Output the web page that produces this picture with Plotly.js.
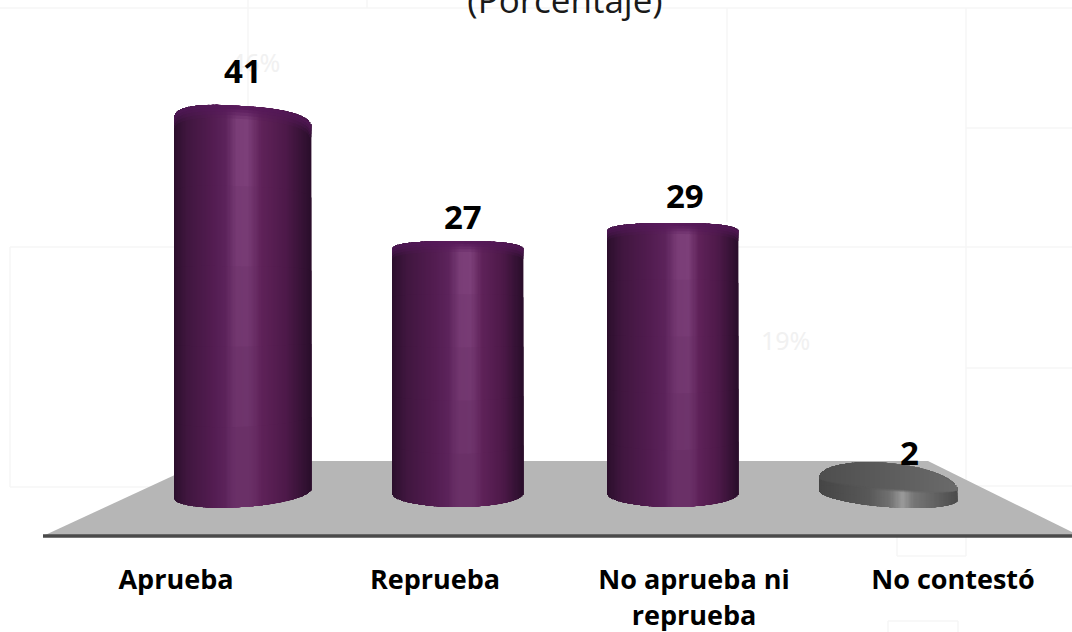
<!DOCTYPE html>
<html><head><meta charset="utf-8">
<script src="https://cdn.plot.ly/plotly-3.0.1.min.js"></script>
<style>html,body{margin:0;padding:0;background:#fff;overflow:hidden}</style>
</head><body><div id="chart" style="width:1072px;height:632px"></div>
<script>
// ---- data ----
const categories = ['Aprueba', 'Reprueba', 'No aprueba ni<br>reprueba', 'No contestó'];
const values = [41, 27, 29, 2];
const chartTitle = '(Porcentaje)';
const ghostLabels = ['46%', '19%'];

// ---- layout constants (pixels) ----
const W = 1072, H = 632, floorY = 536, zeroY = 493, pxPerUnit = 9;
const tickStart = 176, tickStep = 259;
const barCenter = [242.5, 457.5, 672.5, 888];
const barWidth = [137, 131, 131, 138];
const capH = [18, 9, 9, 21], botH = [14, 14, 14, 12], capFront = [0, 0, 0, 7];
const capDrop = [0, 0, 0, 9], botDrop = [0, 0, 0, 2];
const capBand = [13, 11, 11, 0];
const topSkew = [9, 0, 0, 12], botSkew = [-9, 0, 0, 10];
const highlight = [0.5, 0.57, 0.59, 0.61];
const labelShift = [[0, 54], [5, 34], [12, 37], [21, 23]];
const isGrey = [false, false, false, true];
const N = 110;

const hex = s => [1, 3, 5].map(i => parseInt(s.substr(i, 2), 16));
function rampRGB(stops, t) {
  for (let i = 1; i < stops.length; i++) {
    if (t <= stops[i][0]) {
      const a = stops[i - 1], b = stops[i], f = (t - a[0]) / (b[0] - a[0] || 1);
      const ca = hex(a[1]), cb = hex(b[1]);
      return ca.map((c, j) => c + (cb[j] - c) * f);
    }
  }
  return hex(stops[stops.length - 1][1]);
}
const css = c => 'rgb(' + c.map(Math.round).join(',') + ')';
const mix = (a, b, f) => a.map((c, j) => c + (b[j] - c) * f);
const purple = [[0, '#2a0e2b'], [0.1, '#40163f'], [0.28, '#521c50'], [0.38, '#5c235b'], [0.46, '#7a3d77'], [0.54, '#7c3f79'], [0.64, '#5f2259'], [0.82, '#4d1949'], [1, '#2a0e2b']];
const grey = [[0, '#454545'], [0.3, '#585858'], [0.42, '#707070'], [0.5, '#9a9a9a'], [0.6, '#767676'], [0.8, '#626262'], [1, '#4c4c4c']];
const capPurple = [[0, '#4a1650'], [0.5, '#5a1b5c'], [1, '#4d1650']];
const capGrey = [[0, '#4e4e4e'], [0.5, '#5c5c5c'], [1, '#6a6a6a']];
const warp = (t, hp) => t < hp ? 0.5 * t / hp : 0.5 + 0.5 * (t - hp) / (1 - hp);

const axisOffset = categories.map((c, i) => (barCenter[i] - (tickStart + tickStep * i) - barWidth[i] / 2) / tickStep);
const coreShare = 0.6;
const traces = [{
  type: 'bar', name: 'Porcentaje', x: categories, y: values,
  offset: axisOffset.map((o, i) => o + (1 - coreShare) / 2 * barWidth[i] / tickStep),
  width: barWidth.map(w => coreShare * w / tickStep),
  marker: {color: isGrey.map(g => g ? '#555555' : '#4b1848'), line: {width: 0}},
  hoverinfo: 'x+y'
}];
// fine vertical tiers: only bright colours dim toward the floor
const bodyTiers = [[1, 0], [0.8, 0.06], [0.6, 0.12], [0.4, 0.18], [0.2, 0.24]];
const capLayers = [[1, 0.25], [0.75, 0.55], [0.5, 0.8], [0.28, 1]];
const midPurple = [86, 32, 84];
for (let k = 0; k < N; k++) {
  const t = (k + 0.5) / N, u = 2 * t - 1;
  const round = Math.sqrt(1 - u * u);
  const roundTop = Math.pow(1 - Math.pow(Math.abs(u), 2.6), 1 / 2.6);
  const offs = categories.map((c, i) => axisOffset[i] + (k / N) * barWidth[i] / tickStep);
  const wid = barWidth.map(w => (w / N + 0.4) / tickStep);
  const base = botH.map((b, i) => -(b * round + botDrop[i] + botSkew[i] * (t - 0.5)) / pxPerUnit);
  const bodyCol = categories.map((c, i) => rampRGB(isGrey[i] ? grey : purple, warp(t, highlight[i])));
  const topEdge = values.map((v, i) => v + (capH[i] * (isGrey[i] ? round : roundTop) - capDrop[i] - topSkew[i] * (t - 0.5)) / pxPerUnit);
  bodyTiers.forEach(tier => {
    traces.push({
      type: 'bar', x: categories, base: base,
      y: topEdge.map((e, i) => (e - base[i]) * tier[0]),
      offset: offs, width: wid, hoverinfo: 'skip', showlegend: false,
      marker: {color: bodyCol.map((c, i) => {
        if (isGrey[i]) return css(c);
        const brighter = Math.max(0, Math.min(1, (c[0] - midPurple[0]) / 38));
        return css(mix(c, midPurple, tier[1] * 2 * brighter));
      }), line: {width: 0}}
    });
  });
  capLayers.forEach(layer => {
    const capCol = categories.map((c, i) => rampRGB(isGrey[i] ? capGrey : capPurple, t));
    // band thickness: a thin bevel on the tall cylinders, a full ellipse on the flat disc
    const thick = categories.map((c, i) => capBand[i] ? capBand[i] * layer[0] : (capH[i] + capFront[i]) * round * (0.88 + 0.12 * layer[0]));
    traces.push({
      type: 'bar', x: categories,
      base: topEdge.map((e, i) => e - thick[i] / pxPerUnit),
      y: thick.map(h => h / pxPerUnit),
      offset: offs, width: wid, hoverinfo: 'skip', showlegend: false,
      marker: {color: categories.map((c, i) => css(mix(bodyCol[i], capCol[i], layer[1]))), line: {width: 0}}
    });
  });
}

const px = x => x / W, py = y => 1 - y / floorY;
const floorPts = [[43, 536], [205, 461], [928, 461], [1072, 532], [1072, 536]];
const floorPath = floorPts.map((p, i) => (i ? 'L' : 'M') + px(p[0]) + ' ' + py(p[1])).join(' ') + ' Z';
const gridH = [[0, 1072, 8], [10, 175, 247], [738, 1072, 247], [966, 1072, 128], [966, 1072, 368], [10, 175, 487], [965, 1072, 486]];
const gridV = [[248, 0, 107], [367, 0, 8], [727, 8, 222], [966, 8, 556], [10, 247, 487], [897, 536, 556]];
const extra = [[897, 966, 556], [888, 958, 621]];
const gridLine = {color: '#f6f6f6', width: 1.5};
const shapes = [];
gridH.concat(extra).forEach(g => shapes.push({type: 'line', layer: 'below', xref: 'paper', yref: 'paper', x0: px(g[0]), x1: px(g[1]), y0: py(g[2]), y1: py(g[2]), line: gridLine}));
gridV.concat([[888, 621, 632], [958, 621, 632]]).forEach(g => shapes.push({type: 'line', layer: 'below', xref: 'paper', yref: 'paper', x0: px(g[0]), x1: px(g[0]), y0: py(g[1]), y1: py(g[2]), line: gridLine}));
shapes.push({type: 'path', layer: 'below', xref: 'paper', yref: 'paper', path: floorPath, fillcolor: '#b6b6b6', line: {width: 0}});
shapes.push({type: 'line', layer: 'below', xref: 'paper', yref: 'paper', x0: px(43), x1: 1, y0: py(536), y1: py(536), line: {color: '#4a4a4a', width: 3.5}});

const annotations = values.map((v, i) => ({
  x: categories[i], y: v, xref: 'x', yref: 'y', text: String(v), showarrow: false,
  xanchor: 'center', yanchor: 'middle',
  xshift: barCenter[i] - (tickStart + tickStep * i) + labelShift[i][0], yshift: labelShift[i][1],
  font: {family: 'Open Sans, sans-serif', size: 33, color: '#000', weight: 700}
}));
[[255, 62], [785, 340]].forEach((p, i) => annotations.unshift({
  x: px(p[0]), y: py(p[1]), xref: 'paper', yref: 'paper', text: ghostLabels[i], showarrow: false,
  xanchor: 'center', yanchor: 'middle',
  font: {family: 'Noto Sans, sans-serif', size: 25, color: '#f1f1f1'}
}));

const layout = {
  width: W, height: H, margin: {l: 0, r: 0, t: 0, b: H - floorY, pad: 0},
  paper_bgcolor: '#fff', plot_bgcolor: 'rgba(0,0,0,0)', showlegend: false,
  barmode: 'overlay',
  title: {text: chartTitle, x: 565 / W, xanchor: 'center', xref: 'paper', y: 1 - 13 / H, yref: 'container', yanchor: 'bottom',
    font: {family: 'Open Sans, sans-serif', size: 35, color: '#1a1a1a'}},
  xaxis: {type: 'category', categoryorder: 'array', categoryarray: categories,
    range: [-tickStart / tickStep, (W - tickStart) / tickStep], fixedrange: true,
    showgrid: false, zeroline: false, showline: false,
    ticks: 'outside', ticklen: 20, tickcolor: 'rgba(0,0,0,0)', automargin: false,
    tickfont: {family: 'Open Sans, sans-serif', size: 27, color: '#000', weight: 700}},
  yaxis: {visible: false, range: [-(floorY - zeroY) / pxPerUnit, zeroY / pxPerUnit], fixedrange: true},
  shapes: shapes, annotations: annotations
};
Plotly.newPlot('chart', traces, layout, {displayModeBar: false, responsive: false});
</script></body></html>
